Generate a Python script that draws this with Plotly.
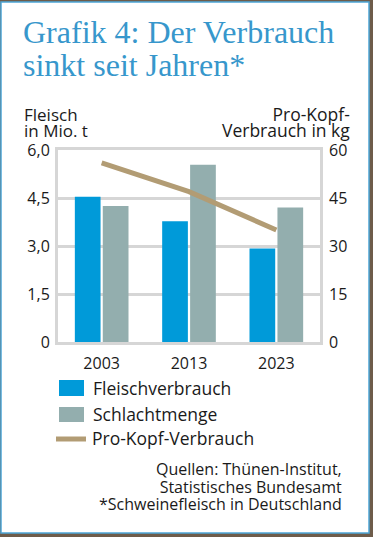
import plotly.graph_objects as go

# ---- data ----
years = ["2003", "2013", "2023"]
fleischverbrauch = [4.54, 3.77, 2.92]      # Mio. t
schlachtmenge = [4.25, 5.54, 4.20]         # Mio. t
pro_kopf = [56.0, 47.0, 35.0]              # kg
series_names = ["Fleischverbrauch", "Schlachtmenge", "Pro-Kopf-Verbrauch"]
left_tickvals = [0, 1.5, 3.0, 4.5, 6.0]
left_ticktext = ["0", "1,5", "3,0", "4,5", "6,0"]
right_tickvals = [0, 15, 30, 45, 60]
right_ticktext = ["0", "15", "30", "45", "60"]

# ---- style ----
W, H = 373, 537
L, R, T, B = 58, 320, 150, 342
BLUE = "#009ad9"
GREY = "#93aeae"
TAN = "#b29c74"
TITLE = "#3797cc"
GRID = "#d6d6d6"
SANS = "'Open Sans', Lato, sans-serif"
SERIF = "'Liberation Serif', serif"
TXT = "#1a1a1a"


def px(x):
    return (x - L) / (R - L)


def py(y):
    return (B - y) / (B - T)


fig = go.Figure()
fig.add_trace(go.Bar(x=years, y=fleischverbrauch, name=series_names[0],
                     marker=dict(color=BLUE, line=dict(width=0)), showlegend=False))
fig.add_trace(go.Bar(x=years, y=schlachtmenge, name=series_names[1],
                     marker=dict(color=GREY, line=dict(width=0)), showlegend=False))
fig.add_trace(go.Scatter(x=years, y=pro_kopf, name=series_names[2], yaxis="y2",
                         mode="lines", line=dict(color=TAN, width=5), showlegend=False))

shapes = [
    # card background
    dict(type="rect", xref="paper", yref="paper", x0=px(1), x1=px(369), y0=py(533), y1=py(2),
         fillcolor="white", line=dict(color="#4ea6d8", width=1.5), layer="below"),
    # legend swatches
    dict(type="rect", xref="paper", yref="paper", x0=px(59), x1=px(84), y0=py(396), y1=py(380),
         fillcolor=BLUE, line=dict(width=0)),
    dict(type="rect", xref="paper", yref="paper", x0=px(59), x1=px(84), y0=py(422), y1=py(407),
         fillcolor=GREY, line=dict(width=0)),
    dict(type="line", xref="paper", yref="paper", x0=px(56), x1=px(86), y0=py(439), y1=py(439),
         line=dict(color=TAN, width=5)),
]

ann = []


def add_block(lines, x, y, size, spacing, anchor="left", color=TXT, family=SANS):
    """Multi-line text block; line spacing set through the base font size."""
    base = spacing / 1.3
    text = "<br>".join(f'<span style="font-size:{size}px">{ln}</span>' for ln in lines)
    ann.append(dict(text=text, xref="paper", yref="paper", x=px(x), y=py(y),
                    xanchor=anchor, yanchor="middle", align=anchor, showarrow=False,
                    font=dict(size=base, color=color, family=family)))


add_block(["Grafik 4: Der Verbrauch", "sinkt seit Jahren*"], 21, 48, 32, 33,
          color=TITLE, family=SERIF)
add_block(["Fleisch", "in Mio. t"], 22, 122, 17, 16)
add_block(["Pro-Kopf-", "Verbrauch in kg"], 352, 122, 17.5, 16, anchor="right")
add_block([series_names[0]], 91, 388, 17.5, 20)
add_block([series_names[1]], 91, 414, 17.5, 20)
add_block([series_names[2]], 90, 438, 17.5, 20)
add_block(["Quellen: Thünen-Institut,", "Statistisches Bundesamt",
           "*Schweinefleisch in Deutschland"], 344, 486, 16, 17.5, anchor="right")

fig.update_layout(
    width=W, height=H,
    margin=dict(l=L, r=W - R, t=T, b=H - B, pad=0),
    paper_bgcolor="#6e5c4a",
    plot_bgcolor="white",
    separators=", ",
    barmode="group", bargap=0.36, bargroupgap=0.08,
    showlegend=False,
    shapes=shapes,
    annotations=ann,
    font=dict(family=SANS, color=TXT),
    xaxis=dict(type="category", range=[-0.5, 2.5], showline=True, mirror=True,
               linecolor=GRID, linewidth=3, showgrid=False, ticks="",
               tickfont=dict(size=16, color=TXT), ticklabelstandoff=5, fixedrange=True),
    yaxis=dict(range=[0, 6], tickvals=left_tickvals, ticktext=left_ticktext,
               showline=True, mirror=True, linecolor=GRID, linewidth=3,
               showgrid=True, gridcolor=GRID, gridwidth=3, zeroline=False,
               ticks="", tickfont=dict(size=16, color=TXT), ticklabelstandoff=2),
    yaxis2=dict(range=[0, 60], tickvals=right_tickvals, ticktext=right_ticktext,
                overlaying="y", side="right", showgrid=False, zeroline=False,
                showline=False, ticks="", tickfont=dict(size=16, color=TXT),
                ticklabelstandoff=8),
)

fig.write_html("out.html", config={"displayModeBar": False},
               post_script="document.body.style.margin='0';")
